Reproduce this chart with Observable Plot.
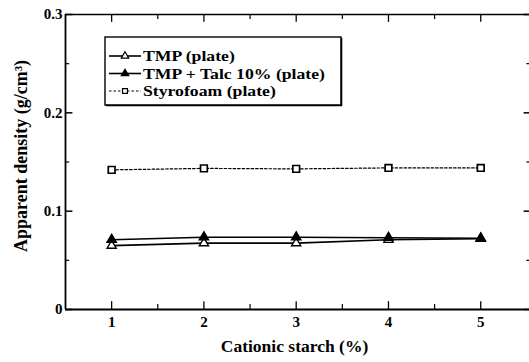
<!DOCTYPE html>
<html>
<head>
<meta charset="utf-8">
<script src="https://cdn.jsdelivr.net/npm/d3@7"></script>
<script src="https://cdn.jsdelivr.net/npm/@observablehq/plot@0.6"></script>
<style>
  html, body { margin: 0; padding: 0; background: #fff; overflow: hidden; }
  #wrap { position: relative; width: 529px; height: 362px; overflow: hidden; }
  #wrap svg { display: block; overflow: hidden; }
  #legend { position: absolute; left: 104px; top: 36px; }
  text { font-family: "Liberation Serif", "DejaVu Serif", serif; }
</style>
</head>
<body>
<div id="wrap"></div>
<script>
// ---- data ----
const starch = [1, 2, 3, 4, 5];
const tmp = [0.065, 0.0675, 0.0675, 0.071, 0.072];
const tmpTalc = [0.071, 0.0735, 0.0735, 0.073, 0.0725];
const styrofoam = [0.142, 0.1435, 0.143, 0.144, 0.144];
const seriesNames = ["TMP (plate)", "TMP + Talc 10% (plate)", "Styrofoam (plate)"];

const xTicks = [1, 2, 3, 4, 5];
const xMinorTicks = [1.5, 2.5, 3.5, 4.5];
const yTicks = [0, 0.1, 0.2, 0.3];
const yTickLabels = ["0", "0.1", "0.2", "0.3"];
const yMinorTicks = [0.05, 0.15, 0.25];
const xLabel = "Cationic starch (%)";
const yLabel = "Apparent density (g/cm³)";

const rows = (vals) => starch.map((s, i) => ({x: s, y: vals[i]}));
const tmpRows = rows(tmp), talcRows = rows(tmpTalc), styroRows = rows(styrofoam);

const font = "Liberation Serif";
const chart = Plot.plot({
  width: 529, height: 362,
  marginLeft: 65, marginRight: -2, marginTop: 14, marginBottom: 53,
  x: {domain: [0.5, 5.55], axis: null},
  y: {domain: [0, 0.3], axis: null},
  style: {fontFamily: font, background: "white", color: "black"},
  marks: [
    // frame
    Plot.ruleY([0], {stroke: "black", strokeWidth: 2}),
    Plot.ruleY([0.3], {stroke: "black", strokeWidth: 1.6}),
    Plot.ruleX([0.5], {stroke: "black", strokeWidth: 1.8}),
    // ticks bottom
    Plot.ruleX(xTicks, {y1: 0, y2: 0.008, stroke: "black", strokeWidth: 1.3}),
    Plot.ruleX(xMinorTicks, {y1: 0, y2: 0.005, stroke: "black", strokeWidth: 1.2}),
    // ticks top
    Plot.ruleX(xTicks, {y1: 0.3, y2: 0.292, stroke: "black", strokeWidth: 1.3}),
    Plot.ruleX(xMinorTicks, {y1: 0.3, y2: 0.295, stroke: "black", strokeWidth: 1.2}),
    // ticks left
    Plot.ruleY(yTicks, {x1: 0.5, x2: 0.58, stroke: "black", strokeWidth: 1.5}),
    Plot.ruleY(yMinorTicks, {x1: 0.5, x2: 0.545, stroke: "black", strokeWidth: 1.2}),
    // ticks right
    Plot.ruleY(yTicks, {x1: 5.47, x2: 5.55, stroke: "black", strokeWidth: 1.5}),
    Plot.ruleY(yMinorTicks, {x1: 5.5, x2: 5.55, stroke: "black", strokeWidth: 1.2}),
    // tick labels
    Plot.text(xTicks, {x: d => d, y: 0, dy: 13, text: d => String(d), fontWeight: "bold", fontSize: 15, fill: "black"}),
    Plot.text(yTicks, {x: 0.5, y: d => d, dx: -3, textAnchor: "end", text: (d, i) => yTickLabels[i], fontWeight: "bold", fontSize: 15, fill: "black"}),
    // axis labels
    Plot.text([xLabel], {frameAnchor: "bottom", dx: -4, dy: 42, text: d => d, fontWeight: "bold", fontSize: 17.5, fill: "black"}),
    Plot.text([yLabel], {frameAnchor: "left", textAnchor: "middle", dx: -44, dy: -6, rotate: -90, text: d => d, fontWeight: "bold", fontSize: 18, fill: "black"}),
    // series
    Plot.line(styroRows, {x: "x", y: "y", stroke: "black", strokeWidth: 1.2, strokeDasharray: "2.5,2"}),
    Plot.line(tmpRows, {x: "x", y: "y", stroke: "black", strokeWidth: 1.6}),
    Plot.line(talcRows, {x: "x", y: "y", stroke: "black", strokeWidth: 1.6}),
    Plot.dot(styroRows, {x: "x", y: "y", symbol: "square", r: 3.8, fill: "white", stroke: "black", strokeWidth: 1.7}),
    Plot.dot(tmpRows, {x: "x", y: "y", symbol: "triangle", r: 3.4, fill: "white", stroke: "black", strokeWidth: 1.4}),
    Plot.dot(talcRows, {x: "x", y: "y", symbol: "triangle", r: 3.6, fill: "black", stroke: "black", strokeWidth: 1.2})
  ]
});
document.getElementById("wrap").appendChild(chart);

// ---- legend overlay ----
const lw = 240, lh = 72;
const leg = d3.select("#wrap").append("svg").attr("id", "legend")
  .attr("width", lw).attr("height", lh);
leg.append("rect").attr("x", 1).attr("y", 1).attr("width", lw - 4).attr("height", lh - 4)
  .attr("fill", "white").attr("stroke", "black").attr("stroke-width", 1.4);
leg.append("line").attr("x1", 2).attr("x2", lw - 2).attr("y1", lh - 2.5).attr("y2", lh - 2.5)
  .attr("stroke", "black").attr("stroke-width", 1.6);
leg.append("line").attr("x1", lw - 2.5).attr("x2", lw - 2.5).attr("y1", 2).attr("y2", lh - 2)
  .attr("stroke", "black").attr("stroke-width", 1.6);
const styles = [
  {dash: null, sym: d3.symbolTriangle, fill: "white"},
  {dash: null, sym: d3.symbolTriangle, fill: "black"},
  {dash: "2.5,2", sym: d3.symbolSquare, fill: "white"}
];
seriesNames.forEach((name, i) => {
  const cy = 20 + i * 17.5;
  const s = styles[i];
  leg.append("line").attr("x1", 5).attr("x2", 37).attr("y1", cy).attr("y2", cy)
    .attr("stroke", "black").attr("stroke-width", s.dash ? 1.2 : 1.6)
    .attr("stroke-dasharray", s.dash);
  leg.append("path").attr("d", d3.symbol(s.sym, 24)())
    .attr("transform", `translate(21,${cy})`)
    .attr("fill", s.fill).attr("stroke", "black").attr("stroke-width", 1.2);
  leg.append("text").attr("x", 0).attr("y", 0).attr("dy", "0.35em")
    .attr("transform", `translate(39,${cy}) scale(1.18,1)`)
    .attr("font-weight", "bold").attr("font-size", 15).attr("fill", "black")
    .text(name);
});
</script>
</body>
</html>
